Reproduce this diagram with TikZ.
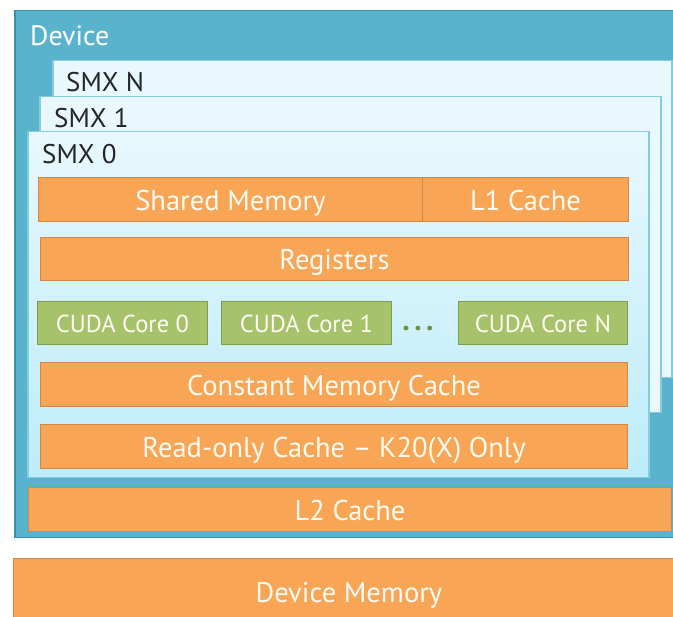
\documentclass[tikz,border=0pt]{standalone}
\usepackage{fontspec}
\setmainfont{PT Sans}
\definecolor{devfill}{HTML}{5AB3CD}
\definecolor{devline}{HTML}{3D8FA7}
\definecolor{smxtop}{HTML}{E8F8FD}
\definecolor{smxbot}{HTML}{BCECFA}
\definecolor{smxline}{HTML}{86CCE0}
\definecolor{orfill}{HTML}{F8A556}
\definecolor{orline}{HTML}{D2864A}
\definecolor{grfill}{HTML}{A6C36B}
\definecolor{grline}{HTML}{7E9C4A}
\definecolor{txtw}{HTML}{FFFBF2}
\definecolor{dotc}{HTML}{6F9040}
\tikzset{
  box/.style={anchor=north west, inner sep=0pt, line width=1pt},
  obox/.style={box, fill=orfill, draw=orline, text=txtw, font=\fontsize{28.5}{28.5}\selectfont, text height=22pt, text depth=0pt},
  gbox/.style={box, fill=grfill, draw=grline, text=txtw, font=\fontsize{24.5}{24.5}\selectfont, text height=19pt, text depth=0pt},
  smx/.style={box, draw=smxline, line width=1.5pt},
  lbl/.style={anchor=west, inner sep=0pt, font=\fontsize{27}{27}\selectfont, text=black!85},
}
\begin{document}
\begin{tikzpicture}[x=1pt,y=-1pt]
\useasboundingbox (0,0) rectangle (673,617);
\clip (0,0) rectangle (673,617);
\fill[white] (0,0) rectangle (673,617);
% device
\node[box, fill=devfill, draw=devline, line width=1.5pt, minimum width=680pt, minimum height=527pt] (dev) at (14,10) {};
\node[lbl, text=white, font=\fontsize{28}{28}\selectfont] (devlbl) at (30,36) {Device};
% SMX stack
\node[smx, fill=smxtop, minimum width=619pt, minimum height=317pt] (smxn) at (52,60) {};
\node[lbl] (smxnl) at (66,82) {SMX N};
\node[smx, fill=smxtop, minimum width=621pt, minimum height=316pt] (smx1) at (39,96) {};
\node[lbl] (smx1l) at (54,118) {SMX 1};
\node[smx, top color=smxtop, bottom color=smxbot, minimum width=621pt, minimum height=346pt] (smx0) at (27,131) {};
\node[lbl] (smx0l) at (42,154) {SMX 0};
% memories
\node[obox, minimum width=384pt, minimum height=44pt] (shm) at (38,177) {Shared Memory};
\node[obox, minimum width=206pt, minimum height=44pt] (l1) at (422,177) {L1 Cache};
\node[obox, minimum width=588pt, minimum height=43pt] (reg) at (40,237) {Registers};
\node[gbox, minimum width=170pt, minimum height=43pt] (c0) at (37,301) {CUDA Core 0};
\node[gbox, minimum width=170pt, minimum height=43pt] (c1) at (221,301) {CUDA Core 1};
\node[gbox, minimum width=169pt, minimum height=43pt] (cn) at (458,301) {CUDA Core N};
\node[anchor=base, inner sep=0pt, text=dotc, font=\bfseries\fontsize{30}{30}\selectfont] (dots) at (418,331) {.\hspace{4.5pt}.\hspace{4.5pt}.};
\node[obox, minimum width=587pt, minimum height=44pt] (cmc) at (40,362) {Constant Memory Cache};
\node[obox, minimum width=587pt, minimum height=44pt] (roc) at (40,424) {Read-only Cache – K20(X) Only};
\node[obox, minimum width=643pt, minimum height=44pt] (l2) at (28,487) {L2 Cache};
\node[obox, minimum width=680pt, minimum height=70pt] (dmem) at (13,558) {};
\node[inner sep=0pt, text=txtw, font=\fontsize{28.5}{28.5}\selectfont, text height=22pt, text depth=0pt] (dmeml) at (349,592) {Device Memory};
\end{tikzpicture}
\end{document}
